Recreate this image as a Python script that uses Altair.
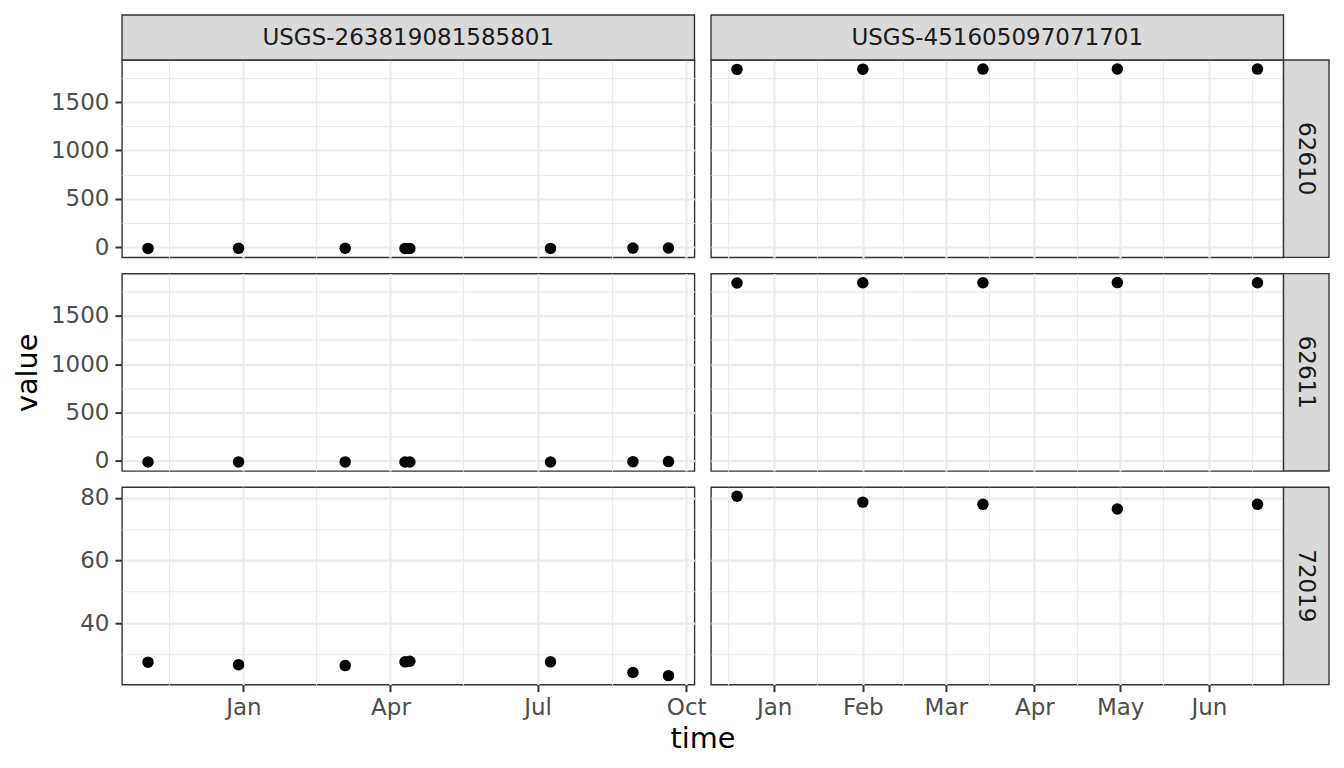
import altair as alt
import pandas as pd

# ---------------- data ----------------
sites = ["USGS-263819081585801", "USGS-451605097071701"]
params = ["62610", "62611", "72019"]

dates_site1 = ["2019-11-03", "2019-12-29", "2020-03-04", "2020-04-10",
               "2020-04-13", "2020-07-09", "2020-08-29", "2020-09-20"]
dates_site2 = ["2019-12-19", "2020-02-01", "2020-03-14", "2020-04-30", "2020-06-18"]

site1_62610 = [-9.8, -9.0, -8.7, -9.9, -10.1, -9.9, -6.5, -5.5]
site1_62611 = [-11.1, -10.3, -10.0, -11.2, -11.4, -11.2, -7.8, -6.8]
site1_72019 = [27.5, 26.7, 26.4, 27.6, 27.8, 27.6, 24.2, 23.2]
site2_62610 = [1836.8, 1838.7, 1839.4, 1840.9, 1839.4]
site2_62611 = [1838.0, 1839.9, 1840.6, 1842.1, 1840.6]
site2_72019 = [80.5, 78.6, 77.9, 76.4, 77.9]

x_major_site1 = ["2020-01-01", "2020-04-01", "2020-07-01", "2020-10-01"]
x_minor_site1 = ["2019-11-16", "2020-02-15", "2020-05-16", "2020-08-16"]
x_major_site2 = ["2020-01-01", "2020-02-01", "2020-03-01", "2020-04-01", "2020-05-01", "2020-06-01"]
x_minor_site2 = ["2019-12-16", "2020-01-16", "2020-02-15", "2020-03-16",
                 "2020-04-16", "2020-05-16", "2020-06-16"]
y_major_level = [0, 500, 1000, 1500]
y_minor_level = [250, 750, 1250, 1750]
y_major_depth = [40, 60, 80]
y_minor_depth = [30, 50, 70]

# ---------------- build table ----------------
series = {
    (sites[0], params[0]): (dates_site1, site1_62610),
    (sites[0], params[1]): (dates_site1, site1_62611),
    (sites[0], params[2]): (dates_site1, site1_72019),
    (sites[1], params[0]): (dates_site2, site2_62610),
    (sites[1], params[1]): (dates_site2, site2_62611),
    (sites[1], params[2]): (dates_site2, site2_72019),
}
rows = []
for (s, p), (ds, vs) in series.items():
    for d, v in zip(ds, vs):
        rows.append({"site": s, "param": p, "time": pd.Timestamp(d), "value": v})
df = pd.DataFrame(rows)

# ---------------- layout / style ----------------
W = 572.5
H = 197.4
GAP_ROW = 15.6
GAP_COL = 16
STRIP_H = 45
STRIP_W = 45.5
FONT = "DejaVu Sans"
GRID = "#EBEBEB"
DARK = "#333333"


def dt(ts):
    ts = pd.Timestamp(ts)
    return alt.DateTime(year=ts.year, month=ts.month, date=ts.day,
                        hours=ts.hour, minutes=ts.minute, seconds=ts.second)


def expand(lo, hi):
    r = hi - lo
    return lo - 0.05 * r, hi + 0.05 * r


xdom = {}
for s in sites:
    t = df[df.site == s]["time"]
    lo, hi = expand(t.min(), t.max())
    xdom[s] = [dt(lo), dt(hi)]
ydom = {}
for p in params:
    v = df[df.param == p]["value"]
    lo, hi = expand(v.min(), v.max())
    ydom[p] = [lo, hi]

xvals = {
    sites[0]: [dt(d) for d in x_major_site1 + x_minor_site1],
    sites[1]: [dt(d) for d in x_major_site2 + x_minor_site2],
}
yvals = {
    params[0]: y_major_level + y_minor_level,
    params[1]: y_major_level + y_minor_level,
    params[2]: y_major_depth + y_minor_depth,
}
ytest = {
    params[0]: "datum.value % 500 == 0",
    params[1]: "datum.value % 500 == 0",
    params[2]: "datum.value % 20 == 0",
}
XTEST = "date(datum.value) == 1"


def make_axis(values, test, fmt, show, pad, title=None, tprops=None):
    a = dict(
        values=values, grid=True, gridColor=GRID,
        gridWidth={"condition": {"test": test, "value": 2.2}, "value": 1.1},
        domain=False,
    )
    if show:
        a.update(
            labels=True, ticks=True, tickColor=DARK, tickWidth=2, tickSize=7,
            tickOpacity={"condition": {"test": test, "value": 1}, "value": 0},
            labelExpr=f"({test}) ? {fmt} : ''",
            labelFont=FONT, labelFontSize=23, labelColor="#4D4D4D",
            labelPadding=pad,
            labelFlush=False, labelOverlap=False, labelBound=False,
        )
    else:
        a.update(labels=False, ticks=False)
    if title:
        a.update(title=title, titleFont=FONT, titleFontSize=28.75, titleColor="black",
                 titleFontWeight="normal", **tprops)
    else:
        a.update(title=None)
    return alt.Axis(**a)


def panel(ci, ri):
    s = sites[ci]
    p = params[ri]
    d = df[(df.site == s) & (df.param == p)]

    xt = None
    xtp = None
    if ri == 2 and ci == 0:
        xt = "time"
        xtp = dict(titleX=W + GAP_COL / 2, titleY=63, titleAngle=0,
                   titleAlign="center", titleBaseline="alphabetic")
    xaxis = make_axis(xvals[s], XTEST, "timeFormat(datum.value, '%b')",
                      show=(ri == 2), pad=5, title=xt, tprops=xtp)
    yt = None
    ytp = None
    if ri == 1 and ci == 0:
        yt = "value"
        ytp = dict(titleX=-86, titleY=H / 2, titleAngle=270,
                   titleAlign="center", titleBaseline="alphabetic")
    yaxis = make_axis(yvals[p], ytest[p], "format(datum.value, 'd')",
                      show=(ci == 0), pad=6, title=yt, tprops=ytp)

    pts = alt.Chart(d).mark_circle(size=132, color="black", opacity=1).encode(
        x=alt.X("time:T", scale=alt.Scale(domain=xdom[s], nice=False), axis=xaxis),
        y=alt.Y("value:Q", scale=alt.Scale(domain=ydom[p], nice=False, zero=False),
                axis=yaxis),
    )
    layers = [pts]
    if ri == 0:
        sd = pd.DataFrame({"label": [s]})
        layers.append(alt.Chart(sd).mark_rect(fill="#D9D9D9", stroke=DARK, strokeWidth=1.4).encode(
            x=alt.value(0), x2=alt.value(W), y=alt.value(-STRIP_H), y2=alt.value(0)))
        layers.append(alt.Chart(sd).mark_text(font=FONT, fontSize=23, color="#1A1A1A",
                                              align="center", baseline="middle").encode(
            x=alt.value(W / 2), y=alt.value(-STRIP_H / 2), text="label:N"))
    if ci == 1:
        pd_ = pd.DataFrame({"label": [p]})
        layers.append(alt.Chart(pd_).mark_rect(fill="#D9D9D9", stroke=DARK, strokeWidth=1.4).encode(
            x=alt.value(W), x2=alt.value(W + STRIP_W), y=alt.value(0), y2=alt.value(H)))
        layers.append(alt.Chart(pd_).mark_text(font=FONT, fontSize=23, color="#1A1A1A",
                                               align="center", baseline="middle", angle=90).encode(
            x=alt.value(W + STRIP_W / 2), y=alt.value(H / 2), text="label:N"))
    return alt.layer(*layers).properties(width=W, height=H)


panels = [panel(ci, ri) for ri in range(3) for ci in range(2)]

chart = alt.concat(
    *panels, columns=2, spacing={"row": GAP_ROW, "column": GAP_COL}
).properties(
    bounds="flush",
    padding={"left": 4, "top": 5, "right": 5, "bottom": 5},
    background="white",
).configure_view(
    stroke=DARK, strokeWidth=1.4
)

chart.save("out.html", embed_options={"renderer": "svg", "actions": False})
